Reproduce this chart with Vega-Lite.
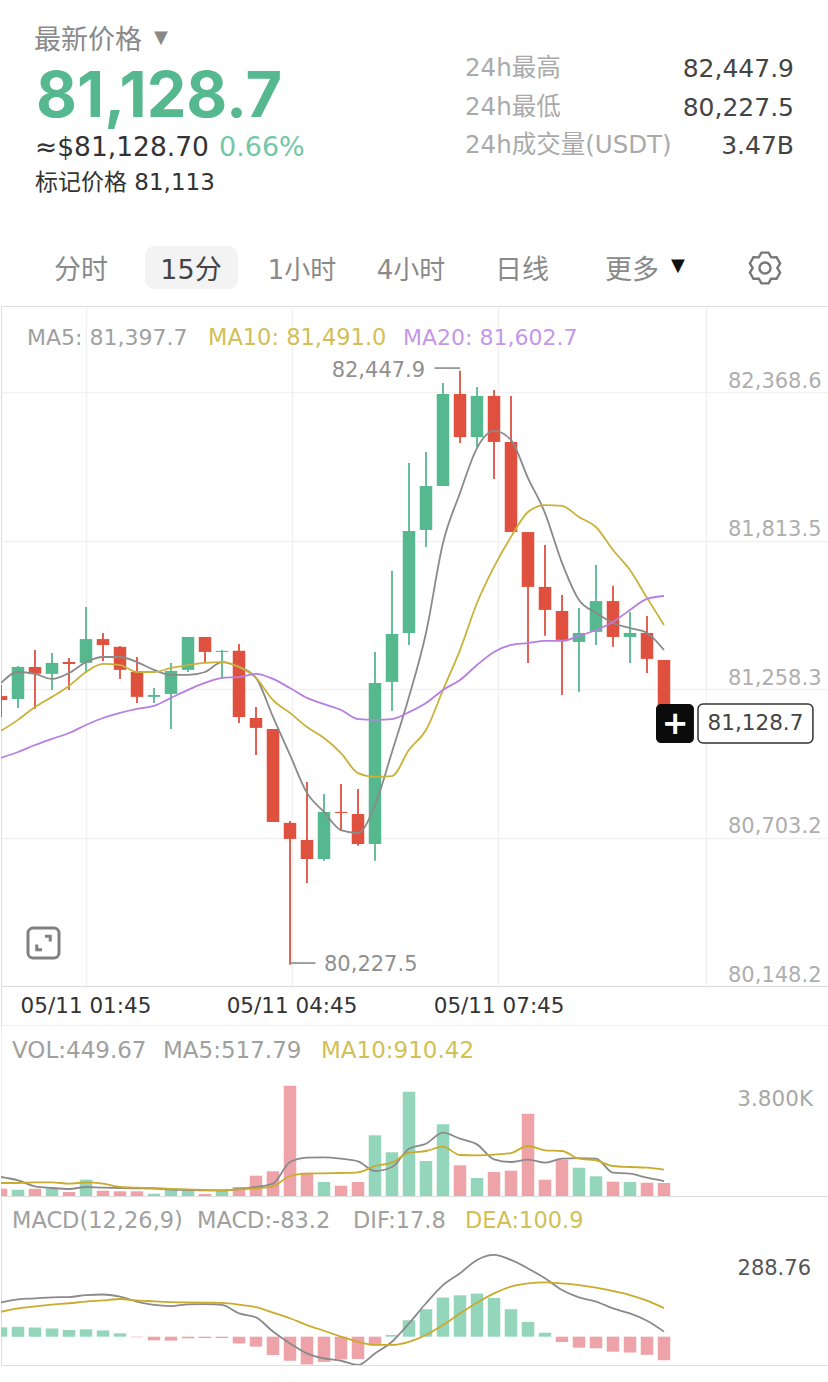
{
"$schema":"https://vega.github.io/schema/vega-lite/v6.json",
"padding":0,
"spacing":0,
"bounds":"flush",
"background":"white",
"resolve":{"scale":{"color":"independent"}},
"config":{"view":{"stroke":null},"font":"DejaVu Sans","text":{"font":"DejaVu Sans, 'Noto Sans CJK SC'"}},
"datasets":{
"k":[
{"i":0,"dir":"down","macdDir":"up","open":81232,"high":81273,"low":81154,"close":81217,"ma5":81281,"ma10":81102,"ma20":81001,"vol":253,"volMa5":657,"volMa10":450,"macd":33,"dif":121,"dea":88},
{"i":1,"dir":"up","macdDir":"up","open":81221,"high":81344,"low":81187,"close":81341,"ma5":81322,"ma10":81143,"ma20":81023,"vol":218,"volMa5":542,"volMa10":450,"macd":35,"dif":132,"dea":100},
{"i":2,"dir":"down","macdDir":"up","open":81341,"high":81404,"low":81184,"close":81315,"ma5":81315,"ma10":81191,"ma20":81049,"vol":253,"volMa5":334,"volMa10":473,"macd":32,"dif":135,"dea":107},
{"i":3,"dir":"up","macdDir":"up","open":81315,"high":81393,"low":81255,"close":81356,"ma5":81296,"ma10":81229,"ma20":81072,"vol":277,"volMa5":277,"volMa10":473,"macd":29,"dif":139,"dea":113},
{"i":4,"dir":"down","macdDir":"up","open":81359,"high":81374,"low":81255,"close":81352,"ma5":81318,"ma10":81270,"ma20":81094,"vol":138,"volMa5":242,"volMa10":427,"macd":24,"dif":140,"dea":118},
{"i":5,"dir":"up","macdDir":"up","open":81356,"high":81565,"low":81318,"close":81445,"ma5":81359,"ma10":81322,"ma20":81124,"vol":564,"volMa5":311,"volMa10":473,"macd":26,"dif":147,"dea":124},
{"i":6,"dir":"down","macdDir":"up","open":81445,"high":81468,"low":81363,"close":81423,"ma5":81378,"ma10":81352,"ma20":81150,"vol":183,"volMa5":288,"volMa10":427,"macd":22,"dif":149,"dea":128},
{"i":7,"dir":"down","macdDir":"up","open":81416,"high":81419,"low":81296,"close":81330,"ma5":81378,"ma10":81348,"ma20":81169,"vol":163,"volMa5":277,"volMa10":311,"macd":12,"dif":141,"dea":133},
{"i":8,"dir":"down","macdDir":"down","open":81322,"high":81378,"low":81206,"close":81229,"ma5":81359,"ma10":81322,"ma20":81184,"vol":163,"volMa5":265,"volMa10":288,"macd":-2,"dif":124,"dea":128},
{"i":9,"dir":"up","macdDir":"down","open":81229,"high":81262,"low":81206,"close":81236,"ma5":81330,"ma10":81322,"ma20":81195,"vol":80,"volMa5":254,"volMa10":277,"macd":-13,"dif":112,"dea":125},
{"i":10,"dir":"up","macdDir":"down","open":81240,"high":81356,"low":81109,"close":81326,"ma5":81311,"ma10":81337,"ma20":81225,"vol":277,"volMa5":219,"volMa10":242,"macd":-14,"dif":108,"dea":122},
{"i":11,"dir":"up","macdDir":"down","open":81330,"high":81453,"low":81322,"close":81453,"ma5":81311,"ma10":81348,"ma20":81255,"vol":232,"volMa5":208,"volMa10":231,"macd":-6,"dif":114,"dea":121},
{"i":12,"dir":"down","macdDir":"down","open":81453,"high":81453,"low":81356,"close":81397,"ma5":81322,"ma10":81356,"ma20":81281,"vol":69,"volMa5":196,"volMa10":208,"macd":-5,"dif":115,"dea":120},
{"i":13,"dir":"up","macdDir":"down","open":81397,"high":81404,"low":81300,"close":81401,"ma5":81359,"ma10":81359,"ma20":81300,"vol":197,"volMa5":196,"volMa10":196,"macd":-5,"dif":112,"dea":119},
{"i":14,"dir":"down","macdDir":"down","open":81401,"high":81427,"low":81131,"close":81154,"ma5":81341,"ma10":81341,"ma20":81303,"vol":311,"volMa5":242,"volMa10":231,"macd":-24,"dif":82,"dea":113},
{"i":15,"dir":"down","macdDir":"down","open":81150,"high":81191,"low":81012,"close":81113,"ma5":81300,"ma10":81300,"ma20":81315,"vol":702,"volMa5":311,"volMa10":265,"macd":-35,"dif":68,"dea":104},
{"i":16,"dir":"down","macdDir":"down","open":81109,"high":81109,"low":80761,"close":80761,"ma5":81154,"ma10":81217,"ma20":81296,"vol":855,"volMa5":427,"volMa10":334,"macd":-65,"dif":18,"dea":85},
{"i":17,"dir":"down","macdDir":"down","open":80758,"high":80765,"low":80227.5,"close":80698,"ma5":81012,"ma10":81169,"ma20":81262,"vol":3816,"volMa5":1176,"volMa10":692,"macd":-85,"dif":-24,"dea":65},
{"i":18,"dir":"down","macdDir":"down","open":80694,"high":80911,"low":80533,"close":80623,"ma5":80870,"ma10":81116,"ma20":81225,"vol":806,"volMa5":1326,"volMa10":772,"macd":-98,"dif":-59,"dea":41},
{"i":19,"dir":"up","macdDir":"down","open":80623,"high":80866,"low":80616,"close":80799,"ma5":80799,"ma10":81075,"ma20":81202,"vol":484,"volMa5":1337,"volMa10":784,"macd":-89,"dif":-77,"dea":21},
{"i":20,"dir":"down","macdDir":"down","open":80799,"high":80903,"low":80728,"close":80795,"ma5":80731,"ma10":81019,"ma20":81180,"vol":356,"volMa5":1291,"volMa10":796,"macd":-80,"dif":-85,"dea":0},
{"i":21,"dir":"down","macdDir":"down","open":80791,"high":80885,"low":80672,"close":80679,"ma5":80720,"ma10":80944,"ma20":81146,"vol":484,"volMa5":1199,"volMa10":819,"macd":-79,"dif":-100,"dea":-18},
{"i":22,"dir":"up","macdDir":"down","open":80679,"high":81397,"low":80616,"close":81281,"ma5":80825,"ma10":80930,"ma20":81143,"vol":2100,"volMa5":865,"volMa10":1038,"macd":-31,"dif":-59,"dea":-29},
{"i":23,"dir":"up","macdDir":"up","open":81285,"high":81700,"low":81176,"close":81464,"ma5":81023,"ma10":80933,"ma20":81146,"vol":1512,"volMa5":1003,"volMa10":1153,"macd":6,"dif":-18,"dea":-29},
{"i":24,"dir":"up","macdDir":"up","open":81468,"high":82103,"low":81423,"close":81849,"ma5":81229,"ma10":81031,"ma20":81172,"vol":3609,"volMa5":1637,"volMa10":1499,"macd":58,"dif":47,"dea":-18},
{"i":25,"dir":"up","macdDir":"up","open":81853,"high":82144,"low":81789,"close":82017,"ma5":81468,"ma10":81105,"ma20":81206,"vol":1211,"volMa5":1810,"volMa10":1557,"macd":97,"dif":118,"dea":6},
{"i":26,"dir":"up","macdDir":"up","open":82017,"high":82402,"low":82017,"close":82361,"ma5":81804,"ma10":81255,"ma20":81255,"vol":2481,"volMa5":2191,"volMa10":1706,"macd":138,"dif":182,"dea":41},
{"i":27,"dir":"down","macdDir":"up","open":82361,"high":82447.9,"low":82178,"close":82200,"ma5":81991,"ma10":81404,"ma20":81292,"vol":1062,"volMa5":1983,"volMa10":1418,"macd":146,"dif":224,"dea":82},
{"i":28,"dir":"up","macdDir":"up","open":82200,"high":82387,"low":82163,"close":82354,"ma5":82159,"ma10":81580,"ma20":81348,"vol":623,"volMa5":1787,"volMa10":1407,"macd":152,"dif":271,"dea":120},
{"i":29,"dir":"down","macdDir":"up","open":82354,"high":82376,"low":82043,"close":82182,"ma5":82223,"ma10":81715,"ma20":81397,"vol":830,"volMa5":1268,"volMa10":1430,"macd":137,"dif":288.76,"dea":153},
{"i":30,"dir":"down","macdDir":"up","open":82182,"high":82354,"low":81845,"close":81845,"ma5":82189,"ma10":81827,"ma20":81423,"vol":875,"volMa5":1176,"volMa10":1487,"macd":97,"dif":271,"dea":177},
{"i":31,"dir":"down","macdDir":"up","open":81845,"high":81845,"low":81356,"close":81640,"ma5":82047,"ma10":81920,"ma20":81430,"vol":2848,"volMa5":1257,"volMa10":1730,"macd":52,"dif":241,"dea":188},
{"i":32,"dir":"down","macdDir":"up","open":81640,"high":81797,"low":81457,"close":81554,"ma5":81916,"ma10":81946,"ma20":81438,"vol":564,"volMa5":1153,"volMa10":1580,"macd":14,"dif":206,"dea":192},
{"i":33,"dir":"down","macdDir":"down","open":81550,"high":81610,"low":81236,"close":81442,"ma5":81730,"ma10":81943,"ma20":81438,"vol":1256,"volMa5":1291,"volMa10":1557,"macd":-19,"dif":165,"dea":188},
{"i":34,"dir":"up","macdDir":"down","open":81434,"high":81561,"low":81247,"close":81468,"ma5":81591,"ma10":81901,"ma20":81457,"vol":979,"volMa5":1314,"volMa10":1291,"macd":-39,"dif":139,"dea":182},
{"i":35,"dir":"up","macdDir":"down","open":81472,"high":81722,"low":81423,"close":81587,"ma5":81543,"ma10":81864,"ma20":81479,"vol":682,"volMa5":1291,"volMa10":1234,"macd":-41,"dif":124,"dea":173},
{"i":36,"dir":"down","macdDir":"down","open":81587,"high":81644,"low":81416,"close":81453,"ma5":81505,"ma10":81778,"ma20":81509,"vol":495,"volMa5":807,"volMa10":1038,"macd":-53,"dif":100,"dea":161},
{"i":37,"dir":"up","macdDir":"down","open":81453,"high":81546,"low":81356,"close":81468,"ma5":81486,"ma10":81703,"ma20":81554,"vol":484,"volMa5":772,"volMa10":1003,"macd":-56,"dif":82,"dea":147},
{"i":38,"dir":"down","macdDir":"down","open":81468,"high":81531,"low":81318,"close":81371,"ma5":81468,"ma10":81599,"ma20":81595,"vol":460,"volMa5":634,"volMa10":980,"macd":-64,"dif":56,"dea":127},
{"i":39,"dir":"down","macdDir":"down","open":81367,"high":81367,"low":81128.7,"close":81128.7,"ma5":81404,"ma10":81498,"ma20":81606,"vol":449.67,"volMa5":517.79,"volMa10":910.42,"macd":-83.2,"dif":17.8,"dea":100.9}
],
"ticks":[{"i":5,"label":"05/11 01:45"},{"i":17.12,"label":"05/11 04:45"},{"i":29.3,"label":"05/11 07:45"}]
},
"vconcat":[
{
"width":828,"height":306,
"data":{"values":[{}]},
"layer":[
{"mark":{"type":"text","x":33,"y":41,"align":"left","baseline":"middle","fontSize":27,"color":"#8a8a8a","text":"最新价格"}},
{"mark":{"type":"text","x":160,"y":38,"align":"center","baseline":"middle","fontSize":18,"color":"#888888","font":"DejaVu Sans","text":"▼"}},
{"mark":{"type":"text","x":35,"y":98,"align":"left","baseline":"middle","fontSize":63,"fontWeight":"bold","color":"#55b88f","font":"Inter","text":"81,128.7"}},
{"mark":{"type":"text","x":34,"y":148,"align":"left","baseline":"middle","fontSize":26.5,"color":"#333333","text":"≈$81,128.70"}},
{"mark":{"type":"text","x":218,"y":148,"align":"left","baseline":"middle","fontSize":27,"color":"#72c7a5","text":"0.66%"}},
{"mark":{"type":"text","x":34,"y":183,"align":"left","baseline":"middle","fontSize":23,"color":"#333333","text":"标记价格 81,113"}},
{"mark":{"type":"text","x":464,"y":69,"align":"left","baseline":"middle","fontSize":24.5,"color":"#aaaaaa","text":"24h最高"}},
{"mark":{"type":"text","x":464,"y":108,"align":"left","baseline":"middle","fontSize":24.5,"color":"#aaaaaa","text":"24h最低"}},
{"mark":{"type":"text","x":464,"y":146,"align":"left","baseline":"middle","fontSize":24.5,"color":"#aaaaaa","text":"24h成交量(USDT)"}},
{"mark":{"type":"text","x":793,"y":69,"align":"right","baseline":"middle","fontSize":25,"color":"#444444","text":"82,447.9"}},
{"mark":{"type":"text","x":793,"y":108,"align":"right","baseline":"middle","fontSize":25,"color":"#444444","text":"80,227.5"}},
{"mark":{"type":"text","x":793,"y":146,"align":"right","baseline":"middle","fontSize":25,"color":"#444444","text":"3.47B"}},
{"mark":{"type":"rect","x":144,"x2":237,"y":246,"y2":289,"cornerRadius":10,"color":"#f3f3f3"}},
{"mark":{"type":"text","x":80,"y":271,"align":"center","baseline":"middle","fontSize":27,"color":"#8a8a8a","text":"分时"}},
{"mark":{"type":"text","x":190,"y":271,"align":"center","baseline":"middle","fontSize":27,"color":"#444444","text":"15分"}},
{"mark":{"type":"text","x":301,"y":271,"align":"center","baseline":"middle","fontSize":26,"color":"#8a8a8a","text":"1小时"}},
{"mark":{"type":"text","x":410,"y":271,"align":"center","baseline":"middle","fontSize":26,"color":"#8a8a8a","text":"4小时"}},
{"mark":{"type":"text","x":521,"y":271,"align":"center","baseline":"middle","fontSize":27,"color":"#8a8a8a","text":"日线"}},
{"mark":{"type":"text","x":631,"y":271,"align":"center","baseline":"middle","fontSize":27,"color":"#8a8a8a","text":"更多"}},
{"mark":{"type":"text","x":677,"y":266,"align":"center","baseline":"middle","fontSize":18,"color":"#111111","font":"DejaVu Sans","text":"▼"}},
{"mark":{"type":"point","x":764,"y":268,"size":1000,"filled":false,"stroke":"#777777","strokeWidth":2.4,"opacity":1,"shape":"M-.225 -.974L.225 -.974L.39 -.675L.731 -.682L.956 -.292L.78 0L.956 .292L.731 .682L.39 .675L.225 .974L-.225 .974L-.39 .675L-.731 .682L-.956 .292L-.78 0L-.956 -.292L-.731 -.682L-.39 -.675ZM.35 0A.35 .35 0 1 1 -.35 0A.35 .35 0 1 1 .35 0Z"}}
]
},
{
"width":828,"height":680,
"view":{"stroke":"#dddddd"},
"layer":[
{"data":{"name":"k"},"mark":{"type":"rule","strokeWidth":1.8,"clip":true},
 "encoding":{"x":{"field":"i","type":"quantitative","scale":{"domain":[0,48.706],"nice":false,"zero":false,"padding":0},"axis":{"values":[5,17.12,29.24,41.47],"labels":false,"ticks":false,"domain":false,"grid":true,"gridColor":"#f1f1f1","gridWidth":1.5,"title":null}},
  "y":{"field":"low","type":"quantitative","scale":{"domain":[80148.2,82690.1],"nice":false,"zero":false},
  "axis":{"values":[82368.6,81813.5,81258.3,80703.2,80148.2],"format":",.1f","orient":"right","labelPadding":-8,"labelAlign":"right","labelBaseline":"bottom","labelOffset":-1,"labelFontSize":21,"labelColor":"#aeaeae","labelFont":"DejaVu Sans","domain":false,"ticks":false,"grid":true,"gridColor":"#f1f1f1","gridWidth":1.5,"title":null}},
  "y2":{"field":"high"},
  "color":{"field":"dir","type":"nominal","scale":{"domain":["up","down"],"range":["#55b88f","#e0503f"]},"legend":null}}},
{"data":{"name":"k"},"mark":{"type":"bar","size":12.5,"clip":true,"orient":"vertical"},
 "encoding":{"x":{"field":"i","type":"quantitative"},"y":{"field":"open","type":"quantitative"},"y2":{"field":"close"},
  "color":{"field":"dir","type":"nominal","legend":null}}},
{"data":{"name":"k"},"mark":{"type":"line","color":"#8a8a8a","strokeWidth":1.8,"interpolate":"monotone","clip":true},"encoding":{"x":{"field":"i","type":"quantitative"},"y":{"field":"ma5","type":"quantitative"}}},
{"data":{"name":"k"},"mark":{"type":"line","color":"#c9b23b","strokeWidth":1.8,"interpolate":"monotone","clip":true},"encoding":{"x":{"field":"i","type":"quantitative"},"y":{"field":"ma10","type":"quantitative"}}},
{"data":{"name":"k"},"mark":{"type":"line","color":"#b77fe2","strokeWidth":1.8,"interpolate":"monotone","clip":true},"encoding":{"x":{"field":"i","type":"quantitative"},"y":{"field":"ma20","type":"quantitative"}}},
{"data":{"values":[{}]},"mark":{"type":"text","x":26,"y":32,"align":"left","baseline":"middle","fontSize":22,"color":"#a0a0a0","text":"MA5: 81,397.7"}},
{"data":{"values":[{}]},"mark":{"type":"text","x":207,"y":32,"align":"left","baseline":"middle","fontSize":22.5,"color":"#d2bf55","text":"MA10: 81,491.0"}},
{"data":{"values":[{}]},"mark":{"type":"text","x":402,"y":32,"align":"left","baseline":"middle","fontSize":22,"color":"#c597e8","text":"MA20: 81,602.7"}},
{"data":{"values":[{}]},"mark":{"type":"rule","stroke":"#8a8a8a","strokeWidth":1.6},"encoding":{"x":{"datum":25.5},"x2":{"datum":27},"y":{"datum":82458}}},
{"data":{"values":[{}]},"mark":{"type":"text","align":"right","baseline":"middle","fontSize":21,"color":"#8f8f8f","text":"82,447.9"},"encoding":{"x":{"datum":24.95},"y":{"datum":82448}}},
{"data":{"values":[{}]},"mark":{"type":"rule","stroke":"#8a8a8a","strokeWidth":1.6},"encoding":{"x":{"datum":17},"x2":{"datum":18.5},"y":{"datum":80234}}},
{"data":{"values":[{}]},"mark":{"type":"text","align":"left","baseline":"middle","fontSize":21,"color":"#8f8f8f","text":"80,227.5"},"encoding":{"x":{"datum":19},"y":{"datum":80227.5}}},
{"data":{"values":[{}]},"mark":{"type":"rect","cornerRadius":5,"color":"#0b0b0b"},"encoding":{"x":{"datum":38.53},"x2":{"datum":40.76},"y":{"datum":81202},"y2":{"datum":81057}}},
{"data":{"values":[{}]},"mark":{"type":"text","align":"center","baseline":"middle","fontSize":32,"fontWeight":"bold","color":"#ffffff","font":"DejaVu Sans","text":"+"},"encoding":{"x":{"datum":39.65},"y":{"datum":81128.7}}},
{"data":{"values":[{}]},"mark":{"type":"rect","cornerRadius":5,"fill":"#ffffff","stroke":"#333333","strokeWidth":1.5},"encoding":{"x":{"datum":41},"x2":{"datum":47.76},"y":{"datum":81202},"y2":{"datum":81057}}},
{"data":{"values":[{}]},"mark":{"type":"text","align":"center","baseline":"middle","fontSize":21.5,"color":"#444444","text":"81,128.7"},"encoding":{"x":{"datum":44.38},"y":{"datum":81128.7}}},
{"data":{"values":[{}]},"mark":{"type":"rect","x":27,"x2":58,"y":622,"y2":652,"cornerRadius":5,"fill":"transparent","stroke":"#808080","strokeWidth":3}},
{"data":{"values":[{}]},"mark":{"type":"point","x":42.5,"y":637,"size":900,"filled":false,"stroke":"#808080","strokeWidth":3,"opacity":1,"shape":"M.1 -.45L.45 -.45L.45 -.1M-.45 .1L-.45 .45L-.1 .45"}}
]
},
{
"width":828,"height":39,
"view":{"stroke":"#dddddd"},
"data":{"name":"ticks"},
"mark":{"type":"text","y":21,"baseline":"middle","align":"center","fontSize":21.5,"color":"#333333"},
"encoding":{"x":{"field":"i","type":"quantitative","scale":{"domain":[0,48.706],"nice":false,"zero":false},"axis":null},"text":{"field":"label"}}
},
{
"width":828,"height":171,
"view":{"stroke":"#eeeeee"},
"layer":[
{"data":{"name":"k"},"mark":{"type":"bar","size":12.5,"clip":true,"orient":"vertical"},
 "encoding":{"x":{"field":"i","type":"quantitative","scale":{"domain":[0,48.706],"nice":false,"zero":false,"padding":0},"axis":null},"y":{"field":"vol","type":"quantitative","stack":null,"scale":{"domain":[0,5917],"nice":false},"axis":null},
  "color":{"field":"dir","type":"nominal","scale":{"domain":["up","down"],"range":["#93d6bb","#eea3a8"]},"legend":null}}},
{"data":{"name":"k"},"mark":{"type":"line","color":"#8a8a8a","strokeWidth":1.8,"interpolate":"monotone","clip":true},"encoding":{"x":{"field":"i","type":"quantitative"},"y":{"field":"volMa5","type":"quantitative"}}},
{"data":{"name":"k"},"mark":{"type":"line","color":"#c9ab2e","strokeWidth":1.8,"interpolate":"monotone","clip":true},"encoding":{"x":{"field":"i","type":"quantitative"},"y":{"field":"volMa10","type":"quantitative"}}},
{"data":{"values":[{}]},"mark":{"type":"text","x":11,"y":26,"align":"left","baseline":"middle","fontSize":23,"color":"#a0a0a0","text":"VOL:449.67"}},
{"data":{"values":[{}]},"mark":{"type":"text","x":162,"y":26,"align":"left","baseline":"middle","fontSize":23,"color":"#a0a0a0","text":"MA5:517.79"}},
{"data":{"values":[{}]},"mark":{"type":"text","x":320,"y":26,"align":"left","baseline":"middle","fontSize":23,"color":"#d2bf55","text":"MA10:910.42"}},
{"data":{"values":[{}]},"mark":{"type":"text","x":812,"y":75,"align":"right","baseline":"middle","fontSize":21.5,"color":"#a8a8a8","text":"3.800K"}}
]
},
{
"width":828,"height":169,
"view":{"stroke":"#dddddd"},
"layer":[
{"data":{"name":"k"},"mark":{"type":"bar","size":12.5,"clip":true,"orient":"vertical"},
 "encoding":{"x":{"field":"i","type":"quantitative","scale":{"domain":[0,48.706],"nice":false,"zero":false,"padding":0},"axis":null},"y":{"field":"macd","type":"quantitative","stack":null,"scale":{"domain":[-100,496.7],"nice":false,"zero":false},"axis":null},
  "color":{"field":"macdDir","type":"nominal","scale":{"domain":["up","down"],"range":["#93d6bb","#eea3a8"]},"legend":null}}},
{"data":{"name":"k"},"mark":{"type":"line","color":"#8a8a8a","strokeWidth":1.8,"interpolate":"monotone","clip":true},"encoding":{"x":{"field":"i","type":"quantitative"},"y":{"field":"dif","type":"quantitative"}}},
{"data":{"name":"k"},"mark":{"type":"line","color":"#c9ab2e","strokeWidth":1.8,"interpolate":"monotone","clip":true},"encoding":{"x":{"field":"i","type":"quantitative"},"y":{"field":"dea","type":"quantitative"}}},
{"data":{"values":[{}]},"mark":{"type":"text","x":11,"y":25,"align":"left","baseline":"middle","fontSize":22.5,"color":"#a0a0a0","text":"MACD(12,26,9)"}},
{"data":{"values":[{}]},"mark":{"type":"text","x":196,"y":25,"align":"left","baseline":"middle","fontSize":22.5,"color":"#a0a0a0","text":"MACD:-83.2"}},
{"data":{"values":[{}]},"mark":{"type":"text","x":352,"y":25,"align":"left","baseline":"middle","fontSize":22.5,"color":"#a0a0a0","text":"DIF:17.8"}},
{"data":{"values":[{}]},"mark":{"type":"text","x":464,"y":25,"align":"left","baseline":"middle","fontSize":22.5,"color":"#d2bf55","text":"DEA:100.9"}},
{"data":{"values":[{}]},"mark":{"type":"text","x":810,"y":73,"align":"right","baseline":"middle","fontSize":21,"color":"#555555","text":"288.76"}}
]
}
]
}
